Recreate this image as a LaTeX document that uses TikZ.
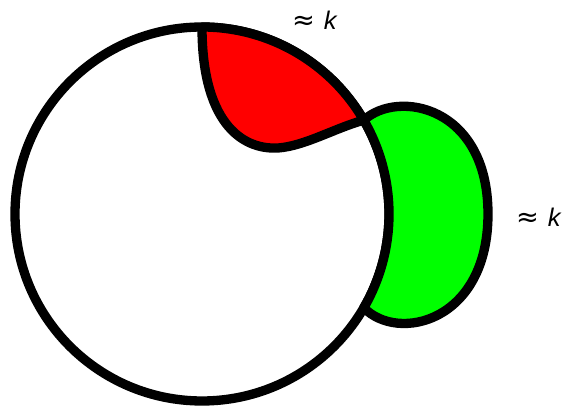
\documentclass[tikz,border=0pt]{standalone}
\usepackage{fontspec}
\setmainfont{Liberation Sans}
\newfontfamily\symfont{DejaVu Sans}
\begin{document}
\begin{tikzpicture}[x=0.02cm,y=0.02cm,
  outline/.style={line width=5.3pt,line join=round,draw=black},
  lbl/.style={inner sep=0pt,font=\fontsize{14.5}{16}\selectfont}]
\useasboundingbox (0,0) rectangle (566,409);
% big circle
\draw[outline] (202,195) circle (187);
% red region
\path[outline,fill=red] (202,382) arc (90:30.1:187)
  .. controls (335,281) and (305,263) .. (278,261)
  .. controls (240,259) and (202,289) .. (202,382) -- cycle;
% green region
\path[outline,fill=green] (363.8,288.8)
  .. controls (398,320) and (488,303) .. (488,195)
  .. controls (488,87) and (398,66) .. (363.8,101.2)
  arc (-30.1:30.1:187) -- cycle;
\node[lbl] (k1) at (315,389) {{\symfont\fontsize{15.5}{16}\selectfont ≈}\hspace{0.35em}\textit{k}};
\node[lbl] (k2) at (539,192) {{\symfont\fontsize{15.5}{16}\selectfont ≈}\hspace{0.35em}\textit{k}};
\end{tikzpicture}
\end{document}
